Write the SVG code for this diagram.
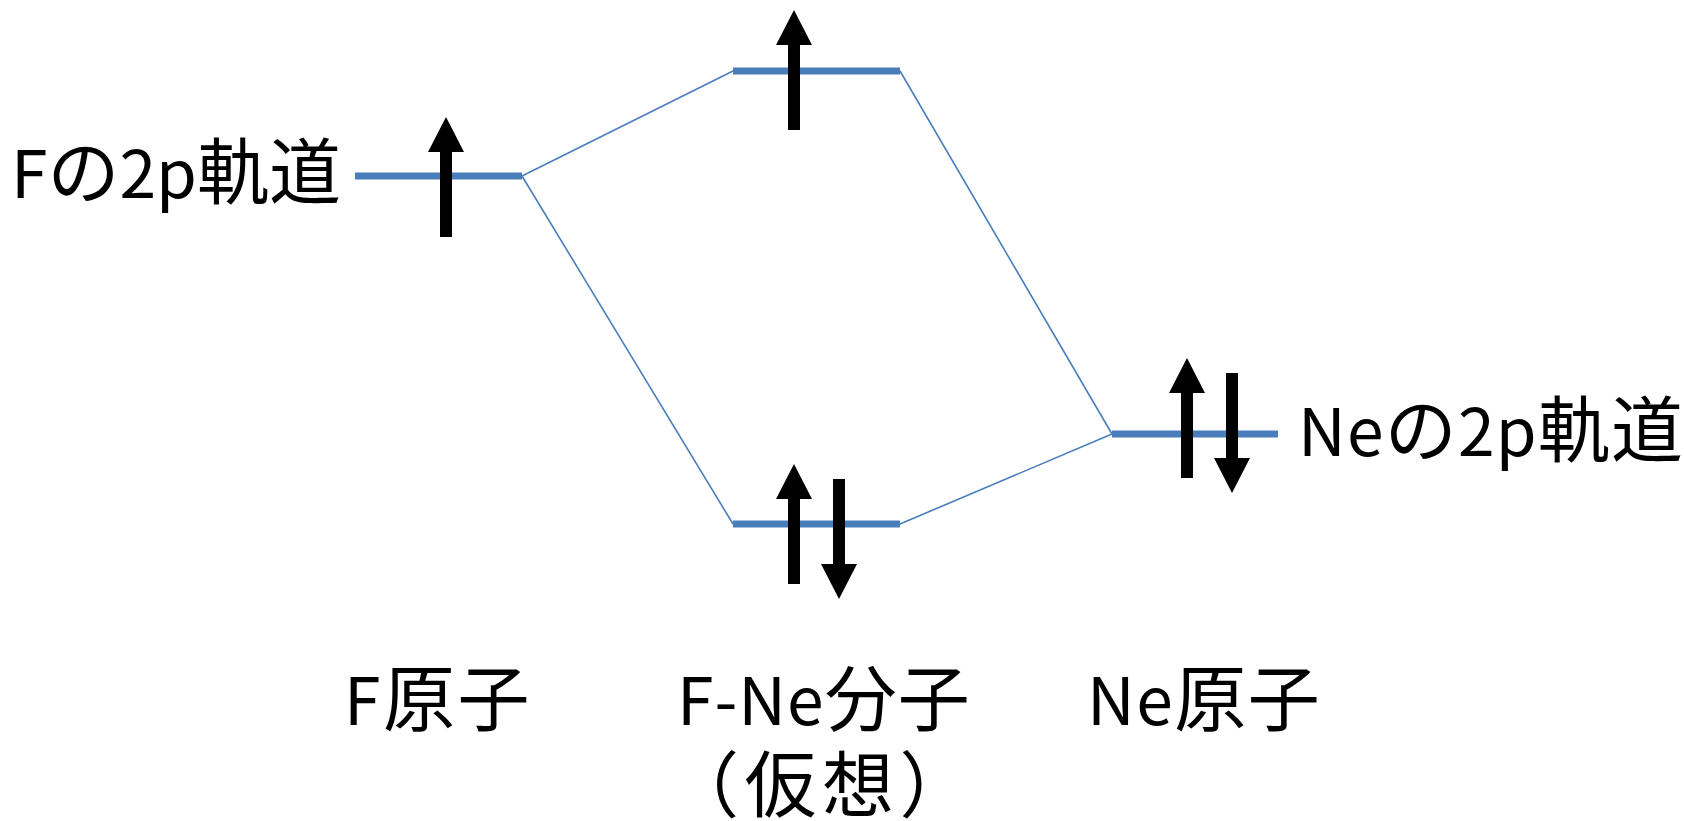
<svg xmlns="http://www.w3.org/2000/svg" xmlns:xlink="http://www.w3.org/1999/xlink" width="1684" height="821" viewBox="0 0 1684 821">
  <style>
    .level { stroke: #4A7EBB; stroke-width: 7; fill: none; }
    .conn { stroke: #4A7EBB; stroke-width: 1.6; fill: none; }
    .spin { fill: #000000; }
    .lbl { font-family: "Noto Sans CJK JP", "Noto Sans", sans-serif; fill: #000000; }
    .lat { font-size: 66px; }
    .cjk { font-size: 72px; }
  </style>
  <defs>
    <path id="up" class="spin" d="M0,0 L18,35 L6,35 L6,120 L-6,120 L-6,35 L-18,35 Z"/>
    <path id="down" class="spin" d="M0,0 L18,-35 L6,-35 L6,-120 L-6,-120 L-6,-35 L-18,-35 Z"/>
  </defs>
  <rect width="1684" height="821" fill="#FFFFFF"/>

  <g id="connectors">
    <line class="conn" x1="522" y1="176" x2="733" y2="71"/>
    <line class="conn" x1="522" y1="176" x2="733" y2="524"/>
    <line class="conn" x1="900" y1="71" x2="1112" y2="434"/>
    <line class="conn" x1="900" y1="524" x2="1112" y2="434"/>
  </g>

  <g id="f-level">
    <line class="level" x1="355" y1="176" x2="522" y2="176"/>
    <use xlink:href="#up" x="446" y="117"/>
  </g>

  <g id="mo-upper">
    <line class="level" x1="733" y1="71" x2="900" y2="71"/>
    <use xlink:href="#up" x="794" y="10"/>
  </g>

  <g id="mo-lower">
    <line class="level" x1="733" y1="524" x2="900" y2="524"/>
    <use xlink:href="#up" x="794" y="464"/>
    <use xlink:href="#down" x="839" y="599"/>
  </g>

  <g id="ne-level">
    <line class="level" x1="1112" y1="434" x2="1278" y2="434"/>
    <use xlink:href="#up" x="1187" y="358"/>
    <use xlink:href="#down" x="1232" y="493"/>
  </g>

  <g id="label-f-2p">
    <text class="lbl" x="11" y="198"><tspan class="lat">F</tspan><tspan class="cjk">の</tspan><tspan class="lat">2p</tspan><tspan class="cjk">軌道</tspan></text>
  </g>

  <g id="label-ne-2p">
    <text class="lbl" x="1298" y="456" letter-spacing="1.2"><tspan class="lat">Ne</tspan><tspan class="cjk">の</tspan><tspan class="lat">2p</tspan><tspan class="cjk">軌道</tspan></text>
  </g>

  <g id="label-f-atom">
    <text class="lbl" x="344" y="725" letter-spacing="2.5"><tspan class="lat">F</tspan><tspan class="cjk">原子</tspan></text>
  </g>

  <g id="label-fne-molecule">
    <text class="lbl" x="677" y="725" letter-spacing="1"><tspan class="lat">F-Ne</tspan><tspan class="cjk">分子</tspan></text>
    <text class="lbl cjk" x="667" y="811" letter-spacing="5.5">（仮想）</text>
  </g>

  <g id="label-ne-atom">
    <text class="lbl" x="1087" y="725" letter-spacing="1.5"><tspan class="lat">Ne</tspan><tspan class="cjk">原子</tspan></text>
  </g>
</svg>
